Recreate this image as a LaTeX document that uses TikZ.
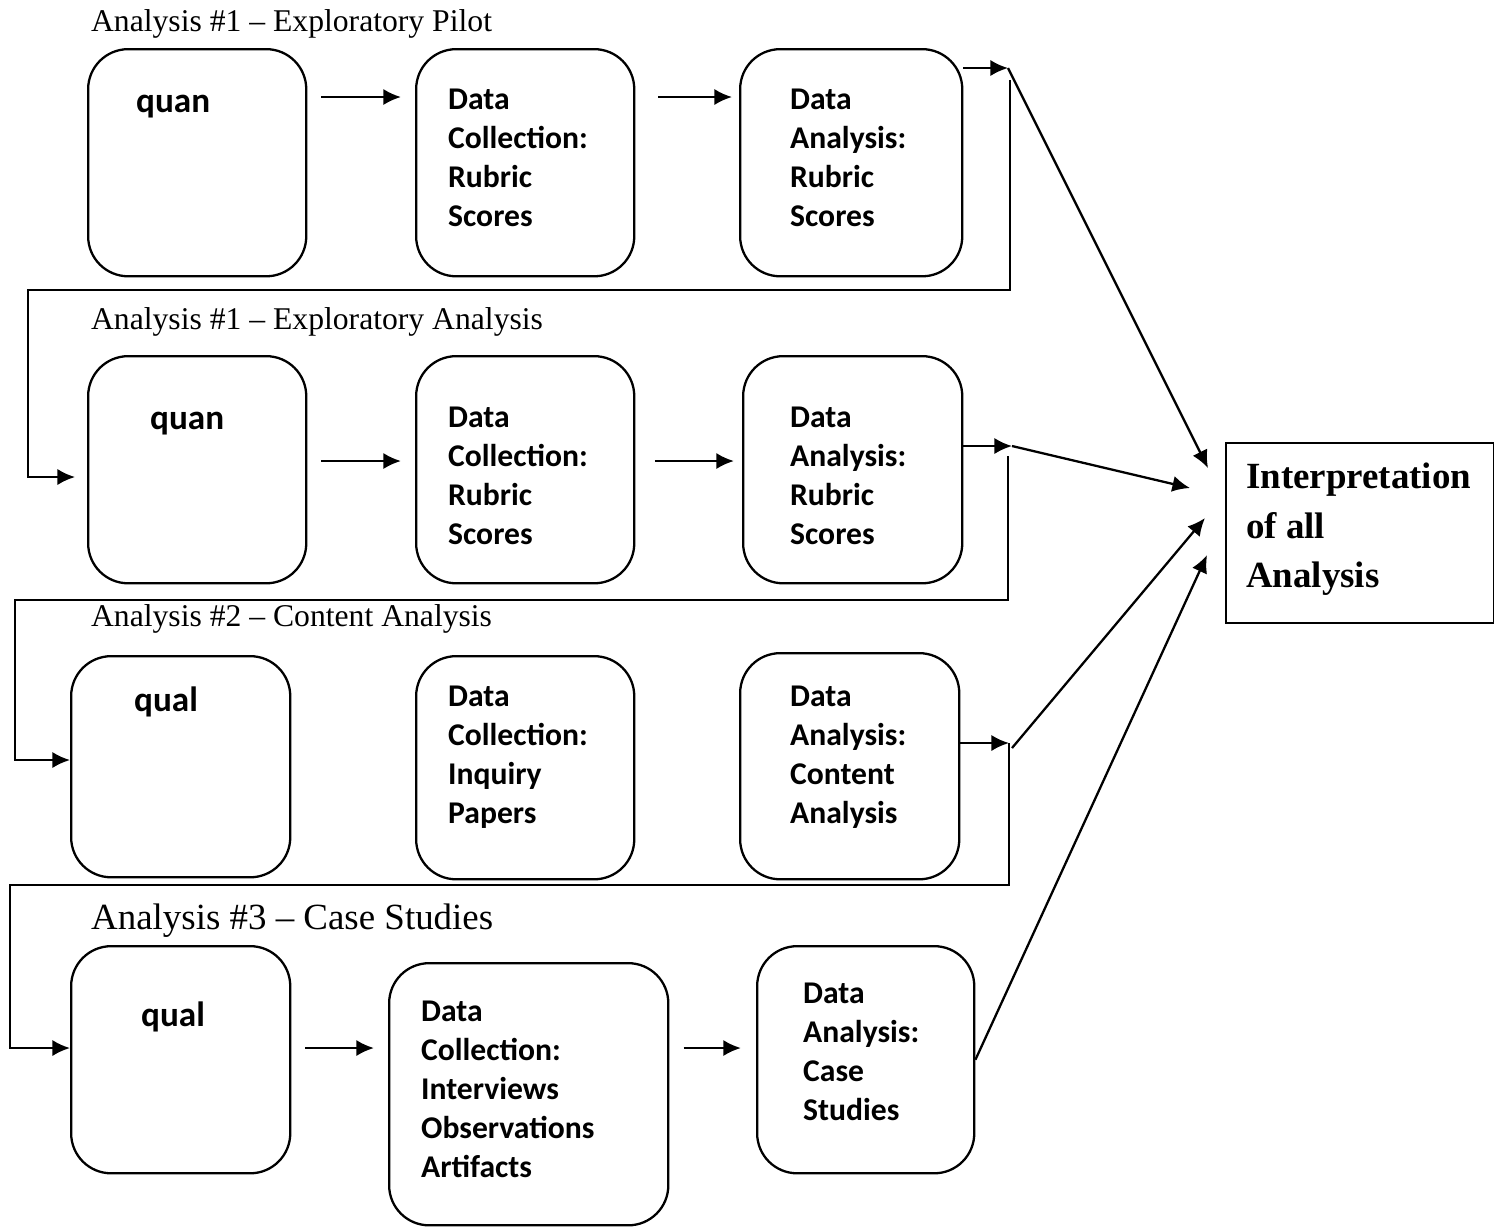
\documentclass[tikz,border=0pt]{standalone}
\usepackage{fontspec}
\setmainfont{Liberation Serif}
\newfontfamily\calibrifont{Carlito}
\usetikzlibrary{arrows.meta}

\begin{document}
\begin{tikzpicture}[x=0.01cm, y=-0.01cm, line width=0.65pt,
	stage/.style={draw, rounded corners=4mm, anchor=north west, inner sep=0pt, minimum width=2.18cm, minimum height=2.27cm},
	steptext/.style={anchor=north west, inner sep=0pt, align=left, font=\calibrifont\bfseries\fontsize{9}{11.1}\selectfont},
	kindtext/.style={anchor=north west, inner sep=0pt, font=\calibrifont\bfseries\fontsize{10}{12}\selectfont},
	heading/.style={anchor=base west, inner sep=0pt, font=\fontsize{9}{11}\selectfont},
	tip/.style={-{Latex[length=5pt,width=4.6pt]}},
	flow/.style={tip, shorten <=4pt, shorten >=4pt}]

		\useasboundingbox (0,0) rectangle (1494,1226);

		%Analysis 1 - Pilot
		\node[heading] (h1) at (90,31) {Analysis \#1 -- Exploratory Pilot};
		\node[stage] (q1) at (87,48) {};
		\node[stage] (d1) at (415,48) {};
		\node[stage, minimum width=2.22cm] (a1) at (739,48) {};
		\node[kindtext] (q1t) at (135,94) {quan};
		\node[steptext] (d1t) at (447,88) {Data\\Collection:\\Rubric\\Scores};
		\node[steptext] (a1t) at (789,88) {Data\\Analysis:\\Rubric\\Scores};

		%Analysis 1 - Analysis
		\node[heading] (h2) at (90,329) {Analysis \#1 -- Exploratory Analysis};
		\node[stage] (q2) at (87,355) {};
		\node[stage] (d2) at (415,355) {};
		\node[stage, minimum width=2.19cm] (a2) at (742,355) {};
		\node[kindtext] (q2t) at (149,411) {quan};
		\node[steptext] (d2t) at (447,406) {Data\\Collection:\\Rubric\\Scores};
		\node[steptext] (a2t) at (789,406) {Data\\Analysis:\\Rubric\\Scores};

		%Analysis 2
		\node[heading] (h3) at (90,626) {Analysis \#2 -- Content Analysis};
		\node[stage, minimum width=2.19cm, minimum height=2.21cm] (q3) at (70,655) {};
		\node[stage, minimum height=2.23cm] (d3) at (415,655) {};
		\node[stage, minimum width=2.19cm, minimum height=2.26cm] (a3) at (739,652) {};
		\node[kindtext] (q3t) at (133,686) {qual};
		\node[steptext] (d3t) at (447,685) {Data\\Collection:\\Inquiry\\Papers};
		\node[steptext] (a3t) at (789,685) {Data\\Analysis:\\Content\\Analysis};

		%Analysis 3
		\node[heading, font=\fontsize{10.5}{12.5}\selectfont] (h4) at (90,929) {Analysis \#3 -- Case Studies};
		\node[stage, minimum width=2.19cm] (q4) at (70,945) {};
		\node[stage, minimum width=2.79cm, minimum height=2.62cm] (d4) at (388,962) {};
		\node[stage, minimum width=2.17cm] (a4) at (756,945) {};
		\node[kindtext] (q4t) at (140,1001) {qual};
		\node[steptext] (d4t) at (420,1000) {Data\\Collection:\\Interviews\\Observations\\Artifacts};
		\node[steptext] (a4t) at (802,982) {Data\\Analysis:\\Case\\Studies};

		%Interpretation
		\node[draw, anchor=north west, inner sep=0pt, minimum width=2.68cm, minimum height=1.8cm] (ip) at (1225,442) {};
		\node[anchor=north west, inner sep=0pt, align=left, font=\bfseries\fontsize{10.5}{14.1}\selectfont] (ipt) at (1245,462) {Interpretation\\of all\\Analysis};

		%Pfeile in den Zeilen
		\coordinate (r1) at (0,97);
		\coordinate (r2) at (0,461);
		\coordinate (r4) at (0,1048);
		\draw[flow] (q1.east |- r1) -- (d1.west |- r1);
		\draw[flow, shorten <=6.5pt, shorten >=2pt] (d1.east |- r1) -- (a1.west |- r1);
		\draw[flow] (q2.east |- r2) -- (d2.west |- r2);
		\draw[flow, shorten <=5.5pt, shorten >=2.3pt] (d2.east |- r2) -- (a2.west |- r2);
		\draw[flow] (q4.east |- r4) -- (d4.west |- r4);
		\draw[flow, shorten >=4.3pt] (d4.east |- r4) -- (a4.west |- r4);

		%Abzweigungen rechts
		\coordinate (j1) at (1008,68);
		\coordinate (j2) at (1012,446);
		\coordinate (j3) at (1009,743);
		\draw[tip] (a1.east |- j1) -- (j1);
		\draw[tip] (a2.east |- j2) -- (j2);
		\draw[tip] (a3.east |- j3) -- (j3);

		%zur Interpretation
		\draw[tip] (j1) -- ([shift={(-17,26)}]ip.north west);
		\draw[tip] (j2) -- ([shift={(-35,46)}]ip.north west);
		\draw[tip] ([shift={(3,5)}]j3) -- ([shift={(-20,76)}]ip.north west);
		\draw[tip] (a4.east) -- ([shift={(-18,113)}]ip.north west);

		%Rueckfuehrungen
		\coordinate (k1) at (1010,80);
		\coordinate (b1) at (28,290);
		\coordinate (e1) at (0,477);
		\coordinate (k2) at (1008,456);
		\coordinate (b2) at (15,600);
		\coordinate (e2) at (0,760);
		\coordinate (b3) at (10,885);
		\coordinate (e3) at (0,1048);
		\draw[tip, shorten >=3.4pt] (k1) |- (b1) |- (q2.west |- e1);
		\draw[tip] (k2) |- (b2) |- (q3.west |- e2);
		\draw[tip] (j3) |- (b3) |- (q4.west |- e3);

\end{tikzpicture}
\end{document}
